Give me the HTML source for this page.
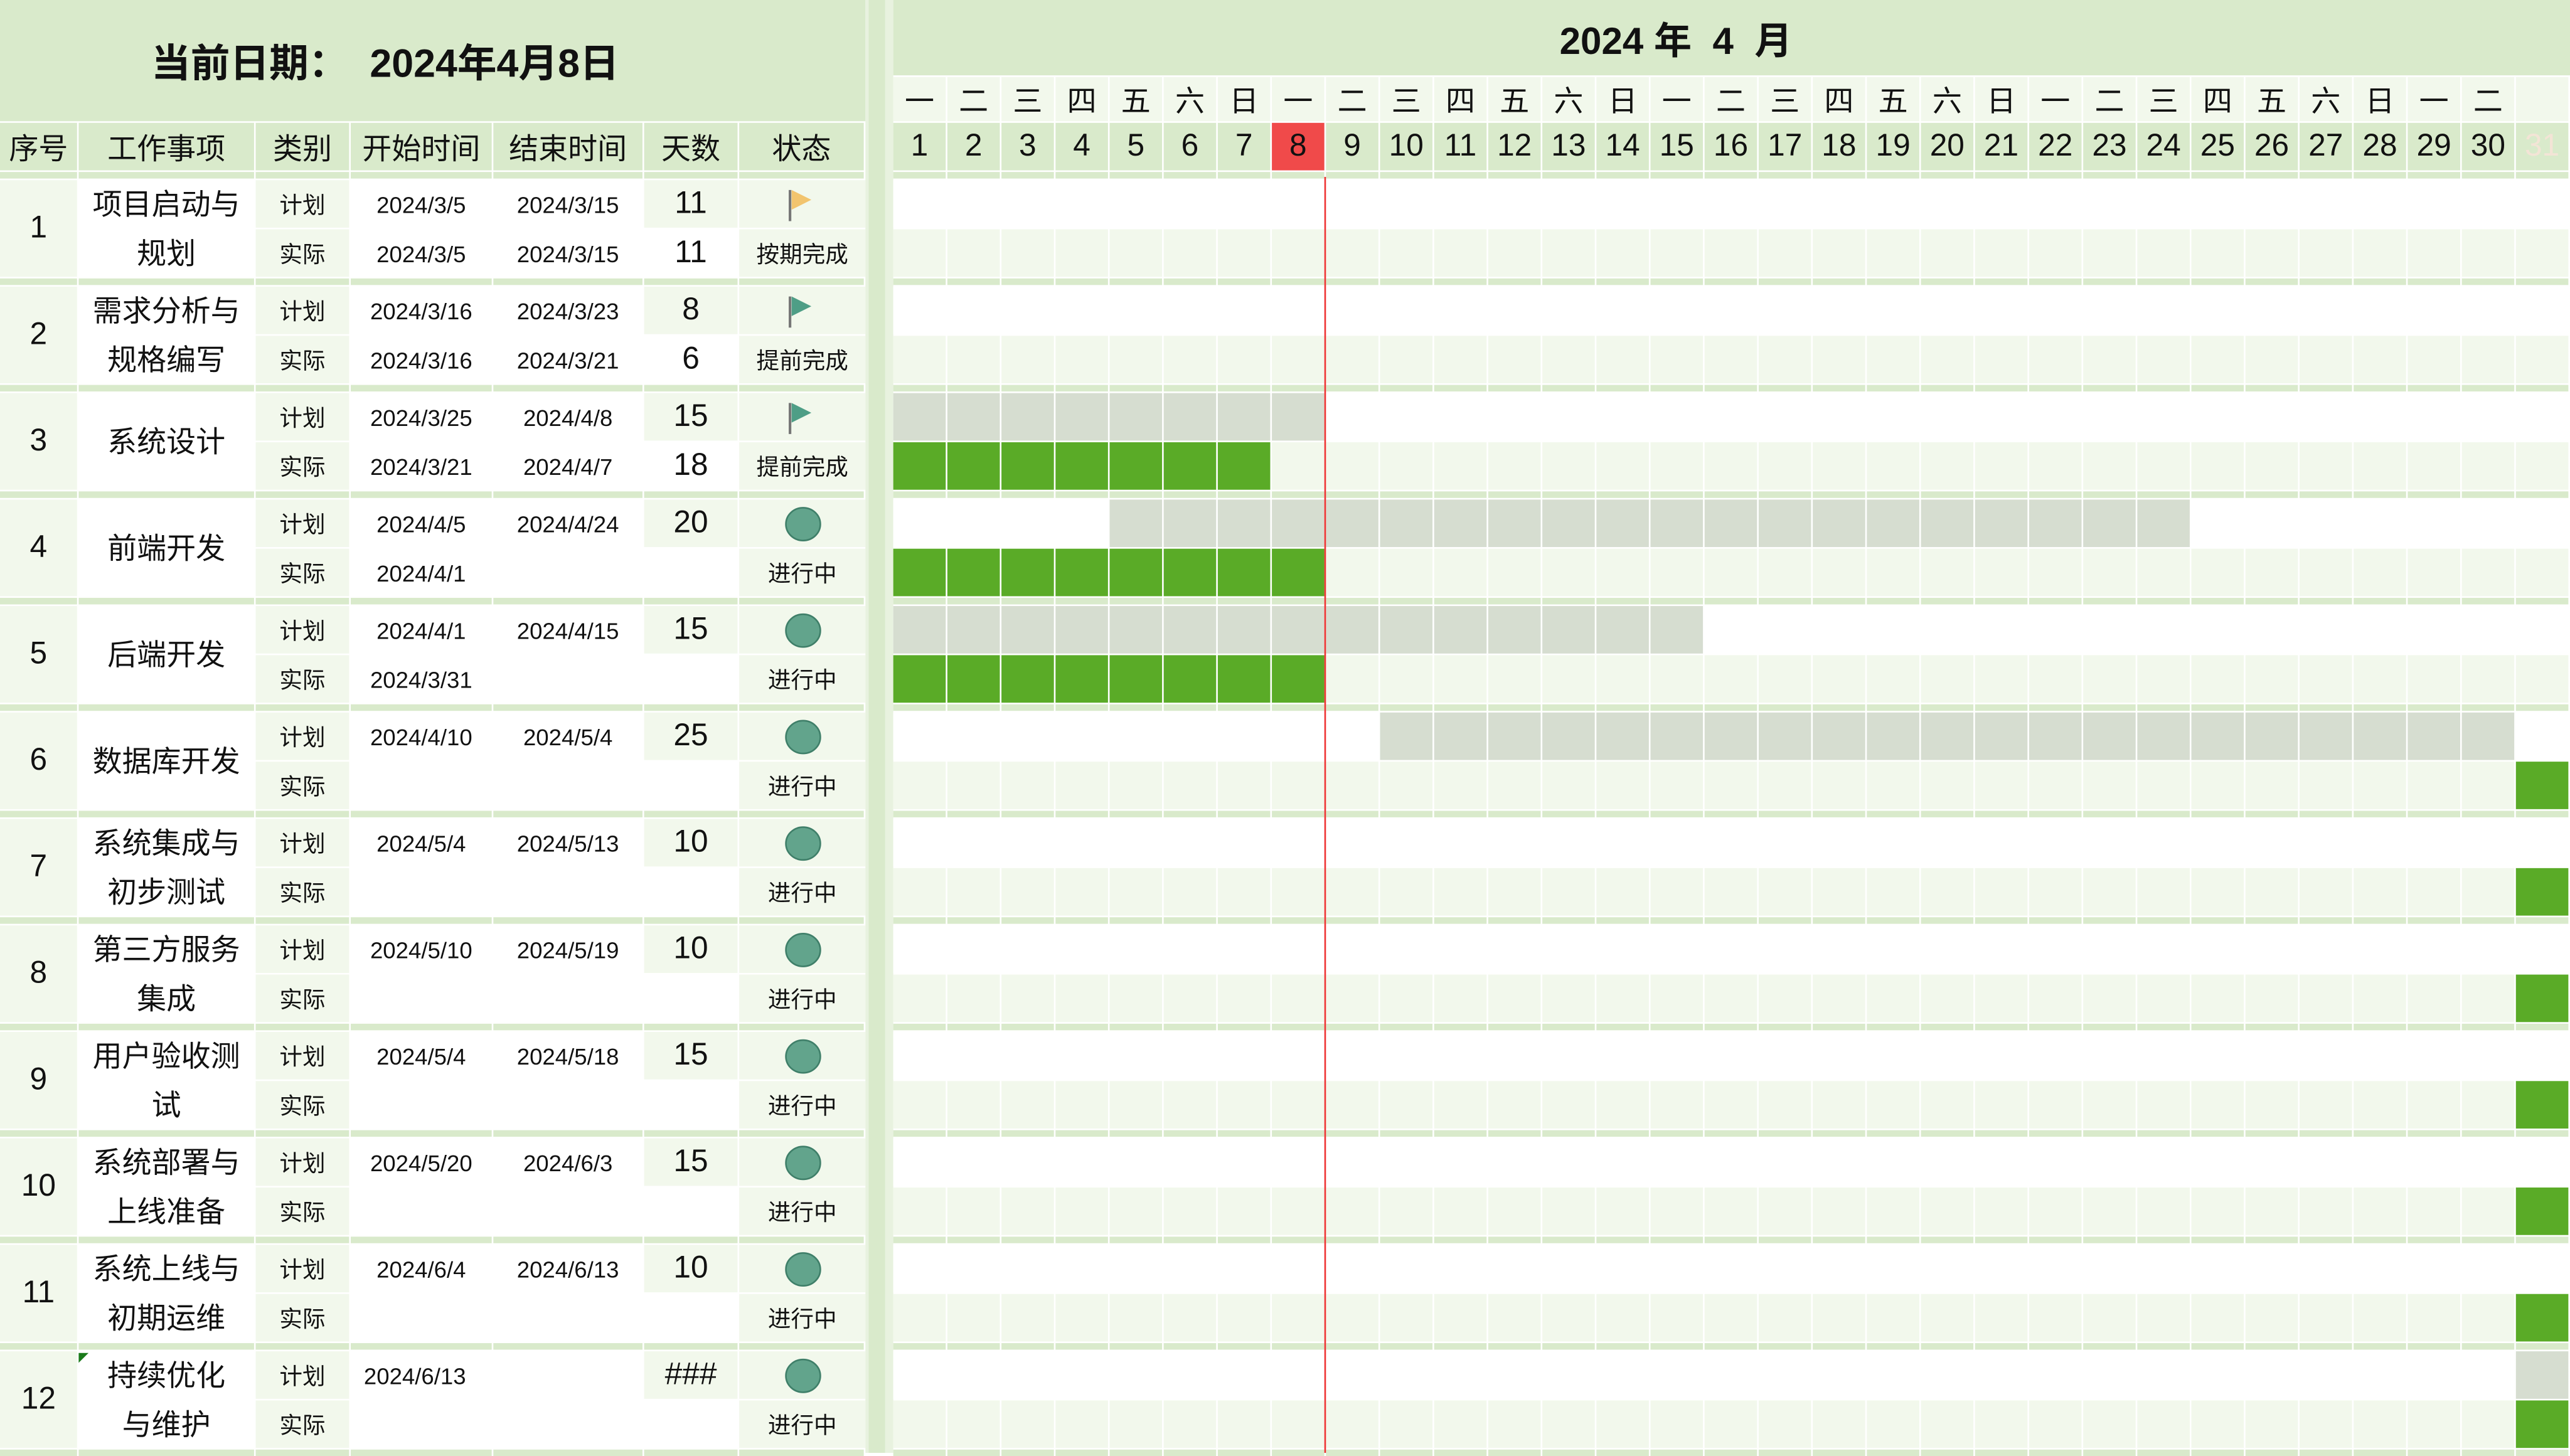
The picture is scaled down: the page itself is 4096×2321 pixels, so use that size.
<!DOCTYPE html>
<html><head><meta charset="utf-8">
<style>
html,body{margin:0;padding:0;width:4096px;height:2316px;overflow:hidden;background:#fff;}
#stage{position:absolute;left:0;top:0;width:1568px;height:887px;transform:scale(2.61224,2.61105);transform-origin:0 0;background:#fff;font-family:"Liberation Sans","Noto Sans CJK SC",sans-serif;color:#111;}
.c{position:absolute;box-sizing:border-box;display:flex;align-items:center;justify-content:center;text-align:center;white-space:nowrap;}
</style></head>
<body>
<div id="stage"></div>
<script>
// ---- data ----
const taskNames = [["项目启动与","规划"],["需求分析与","规格编写"],["系统设计"],["前端开发"],["后端开发"],["数据库开发"],["系统集成与","初步测试"],["第三方服务","集成"],["用户验收测","试"],["系统部署与","上线准备"],["系统上线与","初期运维"],["持续优化","与维护"]];
const planStart = ["2024/3/5","2024/3/16","2024/3/25","2024/4/5","2024/4/1","2024/4/10","2024/5/4","2024/5/10","2024/5/4","2024/5/20","2024/6/4","2024/6/13"];
const planEnd = ["2024/3/15","2024/3/23","2024/4/8","2024/4/24","2024/4/15","2024/5/4","2024/5/13","2024/5/19","2024/5/18","2024/6/3","2024/6/13",""];
const planDays = ["11","8","15","20","15","25","10","10","15","15","10","###"];
const actStart = ["2024/3/5","2024/3/16","2024/3/21","2024/4/1","2024/3/31","","","","","","",""];
const actEnd = ["2024/3/15","2024/3/21","2024/4/7","","","","","","","","",""];
const actDays = ["11","6","18","","","","","","","","",""];
const statusText = ["按期完成","提前完成","提前完成","进行中","进行中","进行中","进行中","进行中","进行中","进行中","进行中","进行中"];
const statusIcon = ["flag-orange","flag-green","flag-green","dot","dot","dot","dot","dot","dot","dot","dot","dot"];
// gantt bars (day columns 1..31), null = none
const planBarStart = [null,null,1,5,1,10,null,null,null,null,null,31];
const planBarEnd   = [null,null,8,24,15,30,null,null,null,null,null,31];
const actBarStart  = [null,null,1,1,1,31,31,31,31,31,31,31];
const actBarEnd    = [null,null,7,8,8,31,31,31,31,31,31,31];
const weekdays = ["一","二","三","四","五","六","日"];
const dayCount = 31;
const today = 8;

const S = document.getElementById('stage');
function box(x,y,w,h,bg,name,txt,style){
  const d=document.createElement('div');
  d.className='c';
  d.style.left=x+'px';d.style.top=y+'px';d.style.width=w+'px';d.style.height=h+'px';
  if(bg)d.style.background=bg;
  if(txt!==undefined&&txt!==null)d.innerHTML=txt;
  if(style)d.style.cssText+=style;
  
  
  S.appendChild(d);return d;
}
const G='#d9eacb', L='#f2f8ec', W='#ffffff', GRAY='#d6ddd0', GREEN='#5aab27';
// left panel
box(0,0,528,74,G,'title-bg');
box(0,0,470,74,null,'date-title','当前日期：&nbsp;&nbsp;2024年4月8日','font-size:24px;font-weight:bold;padding-bottom:2px;');
const cols=[0,48,156,214,301,393,451,528];
const heads=["序号","工作事项","类别","开始时间","结束时间","天数","状态"];
for(let i=0;i<7;i++){
  box(cols[i],75,cols[i+1]-cols[i]-1,29,G,'header-'+(i+1),heads[i],'font-size:18px;');
}
function rowY(k){return 110+65*k;}
for(let i=0;i<7;i++) box(cols[i],105,cols[i+1]-cols[i]-1,4,G,'separator-cell');
for(let k=0;k<12;k++){
  const y=rowY(k);
  for(let i=0;i<7;i++) box(cols[i],y+60,cols[i+1]-cols[i]-1,4,G,'separator-cell');
  box(0,y,47,59,L,'task-index',String(k+1),'font-size:19px;');
  box(48,y,107,59,W,'task-name',taskNames[k].join('<br>'),'font-size:18px;line-height:30px;');
  if(k===11){box(48,y+1,6,6,null,'note-marker','', 'width:0;height:0;border-top:6px solid #1a7a1a;border-right:6px solid transparent;');}
  box(156,y,57,29,L,'type-plan','计划','font-size:14px;');
  box(156,y+30,57,29,L,'type-actual','实际','font-size:14px;');
  box(214,y,86,29,W,'plan-start',planStart[k],'font-size:14px;'+(k===11?'justify-content:flex-start;padding-left:8px;':''));
  box(214,y+30,86,29,W,'actual-start',actStart[k],'font-size:14px;');
  box(301,y,91,29,W,'plan-end',planEnd[k],'font-size:14px;');
  box(301,y+30,91,29,W,'actual-end',actEnd[k],'font-size:14px;');
  box(393,y,57,29,L,'plan-days',planDays[k],'font-size:19px;');
  box(393,y+30,57,29,W,'actual-days',actDays[k],'font-size:19px;');
  const ic=box(451,y,77,29,L,'status-icon','');
  if(statusIcon[k]==='dot'){
    ic.innerHTML='<svg width="24" height="22"><ellipse cx="12" cy="11" rx="10.5" ry="10" fill="#62a48c" stroke="#3f7f69" stroke-width="1"/></svg>';
  } else {
    const col=statusIcon[k]==='flag-orange'?'#f2c46e':'#4e9e86';
    ic.innerHTML='<svg width="24" height="24"><line x1="4" y1="3" x2="4" y2="22" stroke="#777" stroke-width="1.6"/><polygon points="5,3 17,9 5,15" fill="'+col+'"/></svg>';
  }
  box(451,y+30,77,29,L,'status-text',statusText[k],'font-size:14px;');
}
// gap strip
box(528,0,17,887,'#e8f2df','panel-gap');
box(530,0,10,887,G,'panel-gap-bar');
// gantt
const X0=545, CW=33;
function dx(d){return X0+CW*(d-1);}
box(545,0,1023,46,G,'month-title-bg');
box(545,0,955,46,null,'month-title','2024 年&nbsp;&nbsp;4&nbsp;&nbsp;月','font-size:23px;font-weight:bold;');
for(let d=1;d<=dayCount;d++){
  const x=dx(d), w=CW-1;
  box(x,47,w,27,L,'weekday-'+d,d<=30?weekdays[(d-1)%7]:'','font-size:18px;');
  box(x,75,w,29,d===today?'#f04a4a':G,'day-'+d,String(d),'font-size:19px;'+(d===31?'color:#f3e4d6;':''));
  box(x,105,w,4,G,'separator-cell');
  for(let k=0;k<12;k++){
    const y=rowY(k);
    let pb=(planBarStart[k]!==null&&d>=planBarStart[k]&&d<=planBarEnd[k])?GRAY:W;
    let ab=(actBarStart[k]!==null&&d>=actBarStart[k]&&d<=actBarEnd[k])?GREEN:L;
    box(x,y,w,29,pb,pb===GRAY?'plan-bar-cell':'grid-cell');
    box(x,y+30,w,29,ab,ab===GREEN?'actual-bar-cell':'grid-cell');
    box(x,y+60,w,4,G,'separator-cell');
  }
}
box(dx(today)+CW-1.5,108,1.3,779,'#e33','today-line');
</script>
</body></html>
